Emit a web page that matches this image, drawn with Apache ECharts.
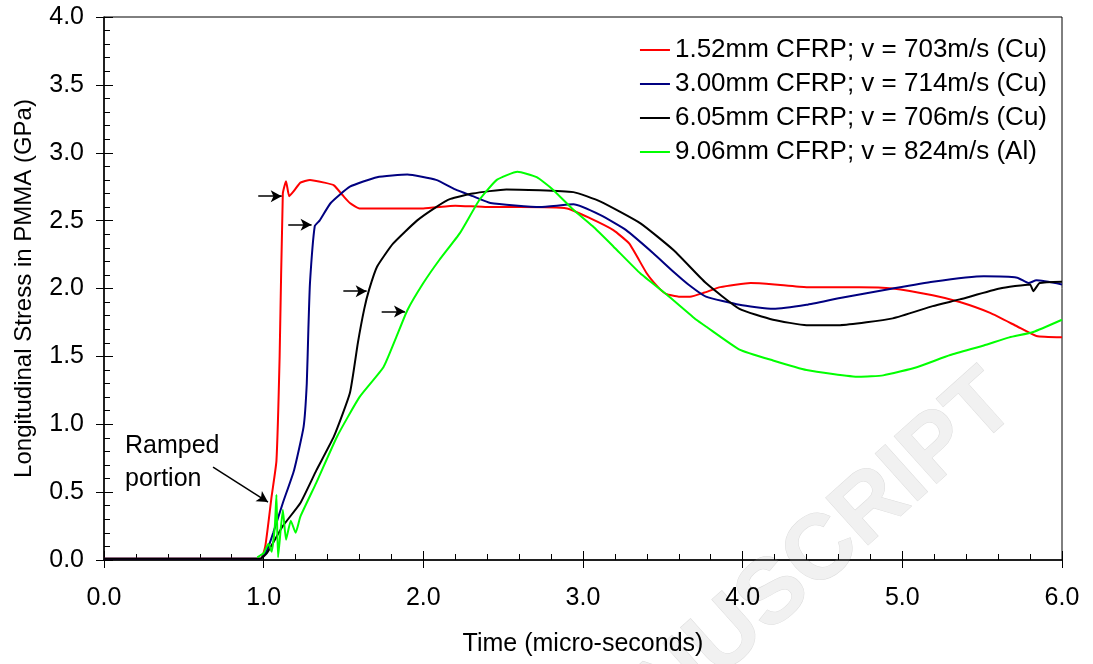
<!DOCTYPE html>
<html>
<head>
    <meta charset="utf-8"/>
    <title>PMMA stress</title>
    <script src="https://cdn.jsdelivr.net/npm/echarts@6/dist/echarts.min.js"></script>
    <style>
        html, body {margin: 0; padding: 0; background: #fff;}
        #mychart {width: 1093px; height: 664px;}
    </style>
</head>
<body>
<div id="mychart"></div>
<script>
    // [time (us), stress (GPa)]
    var red152 = [[0, 0.01], [0.3, 0.01], [0.6, 0.01], [0.98, 0.01], [1.01, 0.1], [1.05, 0.47], [1.08, 0.73], [1.10, 1.5],
        [1.12, 2.70], [1.14, 2.79], [1.16, 2.68], [1.19, 2.72], [1.23, 2.78], [1.29, 2.80], [1.38, 2.78], [1.44, 2.76],
        [1.50, 2.68], [1.54, 2.63], [1.60, 2.59], [1.8, 2.59], [2.0, 2.59], [2.2, 2.61], [2.4, 2.60], [2.6, 2.60],
        [2.9, 2.59], [3.04, 2.52], [3.19, 2.43], [3.29, 2.33], [3.40, 2.11], [3.47, 2.01], [3.52, 1.96], [3.60, 1.94],
        [3.67, 1.94], [3.76, 1.97], [3.86, 2.01], [4.05, 2.04], [4.2, 2.03], [4.40, 2.01], [4.73, 2.01], [4.94, 2.00],
        [5.19, 1.95], [5.36, 1.90], [5.55, 1.82], [5.72, 1.72], [5.84, 1.65], [6.0, 1.64]];
    var blue300 = [[0, 0.01], [0.5, 0.01], [0.98, 0.01], [1.02, 0.07], [1.06, 0.2], [1.12, 0.42], [1.19, 0.66],
        [1.25, 0.98], [1.27, 1.30], [1.28, 1.7], [1.29, 2.04], [1.32, 2.46], [1.35, 2.50], [1.42, 2.63], [1.54, 2.75],
        [1.71, 2.82], [1.90, 2.84], [2.08, 2.80], [2.20, 2.73], [2.31, 2.68], [2.42, 2.63], [2.73, 2.60], [2.94, 2.62],
        [3.11, 2.54], [3.27, 2.43], [3.44, 2.26], [3.57, 2.12], [3.67, 2.02], [3.77, 1.94], [3.98, 1.88], [4.19, 1.85],
        [4.40, 1.88], [4.61, 1.93], [4.94, 2.00], [5.19, 2.05], [5.51, 2.09], [5.72, 2.08], [5.79, 2.04], [5.84, 2.06],
        [6.0, 2.03]];
    var black605 = [[0, 0.01], [0.5, 0.01], [0.98, 0.01], [1.02, 0.05], [1.12, 0.25], [1.23, 0.42], [1.33, 0.66],
        [1.44, 0.91], [1.54, 1.23], [1.59, 1.60], [1.63, 1.85], [1.66, 1.99], [1.71, 2.16], [1.81, 2.33], [1.96, 2.50],
        [2.08, 2.60], [2.17, 2.66], [2.31, 2.70], [2.52, 2.73], [2.94, 2.71], [3.11, 2.64], [3.36, 2.48], [3.57, 2.28],
        [3.77, 2.04], [3.98, 1.85], [4.19, 1.77], [4.40, 1.73], [4.61, 1.73], [4.94, 1.78], [5.19, 1.87], [5.36, 1.92],
        [5.61, 2.00], [5.80, 2.03], [5.82, 1.98], [5.86, 2.04], [6.0, 2.05]];
    var green906 = [[0.96, 0.02], [1.0, 0.05], [1.03, 0.12], [1.05, 0.06], [1.07, 0.25], [1.08, 0.48], [1.09, 0.02],
        [1.12, 0.37], [1.14, 0.15], [1.17, 0.29], [1.20, 0.20], [1.23, 0.32], [1.33, 0.57], [1.46, 0.91], [1.60, 1.20],
        [1.75, 1.42], [1.83, 1.64], [1.90, 1.84], [2.00, 2.04], [2.10, 2.21], [2.23, 2.41], [2.35, 2.65], [2.46, 2.80],
        [2.59, 2.86], [2.71, 2.82], [2.81, 2.73], [2.94, 2.58], [3.06, 2.46], [3.19, 2.31], [3.36, 2.11], [3.52, 1.96],
        [3.71, 1.77], [3.77, 1.72], [3.98, 1.55], [4.19, 1.47], [4.40, 1.40], [4.73, 1.35], [4.88, 1.36], [5.09, 1.42],
        [5.30, 1.51], [5.51, 1.58], [5.67, 1.64], [5.82, 1.68], [6.0, 1.77]];

    var seriesNames = ['1.52mm CFRP; v = 703m/s (Cu)', '3.00mm CFRP; v = 714m/s (Cu)',
        '6.05mm CFRP; v = 706m/s (Cu)', '9.06mm CFRP; v = 824m/s (Al)'];
    var seriesColors = ['#ff0000', '#000080', '#000000', '#00ff00'];

    // arrows: [x0, y0, x1, y1]
    var arrows = [[0.966, 2.68, 1.113, 2.68], [1.154, 2.47, 1.30, 2.47], [1.499, 1.98, 1.645, 1.98],
        [1.739, 1.83, 1.885, 1.83], [0.683, 0.685, 1.027, 0.427]];

    var font = "'Liberation Sans', Arial, sans-serif";
    var myChart = echarts.init(document.getElementById('mychart'));

    var allData = [red152, blue300, black605, green906];
    var series = [];
    for (var i = 0; i < allData.length; i++) {
        series.push({
            name: seriesNames[i],
            type: 'line',
            data: allData[i],
            showSymbol: false,
            smooth: 0.15,
            lineStyle: {color: seriesColors[i], width: 2},
            itemStyle: {color: seriesColors[i]},
            z: 3
        });
    }
    series[0].markLine = {
        silent: true,
        symbol: ['none', 'arrow'],
        symbolSize: [9, 11],
        label: {show: false},
        lineStyle: {color: '#000', width: 1.5, type: 'solid'},
        data: arrows.map(function (a) {
            return [{coord: [a[0], a[1]]}, {coord: [a[2], a[3]]}];
        })
    };

    var option = {
        animation: false,
        textStyle: {fontFamily: font},
        grid: {left: 104, right: 31, top: 17, bottom: 104, show: true, borderColor: '#000', borderWidth: 1},
        legend: {
            data: seriesNames,
            orient: 'vertical',
            right: 46,
            top: 37,
            padding: 0,
            itemGap: 8,
            itemWidth: 30,
            itemHeight: 2,
            icon: 'rect',
            textStyle: {fontSize: 26, color: '#000', fontFamily: font}
        },
        xAxis: [{
            type: 'value', min: 0, max: 6, interval: 1,
            name: 'Time (micro-seconds)', nameLocation: 'middle', nameGap: 72,
            nameTextStyle: {fontSize: 25, color: '#000'},
            axisLine: {lineStyle: {color: '#000', width: 1.5}},
            axisTick: {inside: false, length: 8, lineStyle: {color: '#000'}},
            axisLabel: {fontSize: 25, color: '#000', margin: 26, formatter: function (v) { return v.toFixed(1); }},
            splitLine: {show: false}
        }, {
            type: 'value', min: 0, max: 6, interval: 1, position: 'bottom',
            axisLine: {show: false},
            axisTick: {inside: true, length: 9, lineStyle: {color: '#000'}},
            minorTick: {show: true, splitNumber: 5, length: 6, lineStyle: {color: '#000'}},
            axisLabel: {show: false},
            splitLine: {show: false}
        }],
        yAxis: [{
            type: 'value', min: 0, max: 4, interval: 0.5,
            name: 'Longitudinal Stress in PMMA (GPa)', nameLocation: 'middle', nameGap: 68,
            nameTextStyle: {fontSize: 24, color: '#000'},
            axisLine: {lineStyle: {color: '#000', width: 1.5}},
            axisTick: {inside: false, length: 8, lineStyle: {color: '#000'}},
            axisLabel: {fontSize: 25, color: '#000', margin: 20, formatter: function (v) { return v.toFixed(1); }},
            splitLine: {show: false}
        }, {
            type: 'value', min: 0, max: 4, interval: 0.5, position: 'left',
            axisLine: {show: false},
            axisTick: {inside: true, length: 9, lineStyle: {color: '#000'}},
            minorTick: {show: true, splitNumber: 5, length: 6, lineStyle: {color: '#000'}},
            axisLabel: {show: false},
            splitLine: {show: false}
        }],
        graphic: [{
            type: 'text',
            z: 0,
            x: 972,
            y: 356,
            rotation: 0.73,
            style: {
                text: 'ACCEPTED MANUSCRIPT',
                font: 'bold 92px ' + font,
                fill: '#f1f1f1',
                stroke: '#dcdcdc',
                lineWidth: 1,
                textAlign: 'right',
                textVerticalAlign: 'top'
            }
        }, {
            type: 'text',
            z: 10,
            left: 125,
            top: 430,
            style: {
                text: 'Ramped\nportion',
                font: '25px ' + font,
                lineHeight: 33,
                fill: '#000'
            }
        }],
        series: series
    };
    myChart.setOption(option);
</script>
</body>
</html>
